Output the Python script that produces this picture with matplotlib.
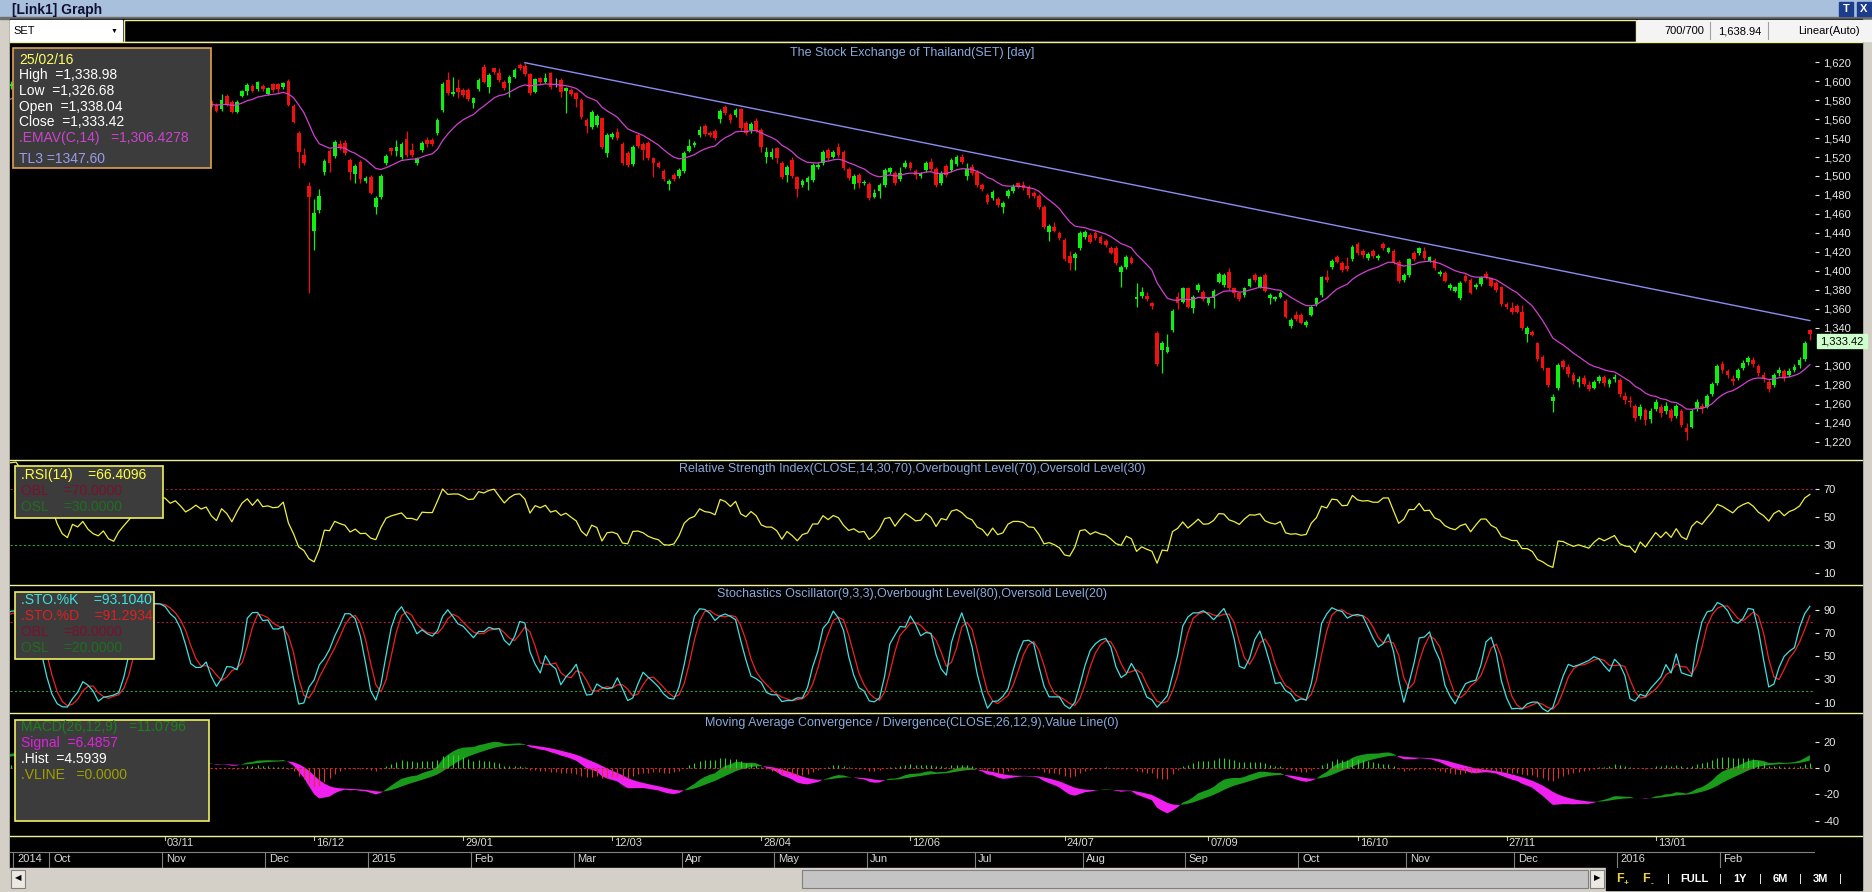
import numpy as np
import pandas as pd
import matplotlib
matplotlib.use("Agg")
import matplotlib.pyplot as plt
from matplotlib.patches import Rectangle

plt.rcParams['font.family'] = ['Liberation Sans', 'DejaVu Sans']

W, H = 1872, 892

# ---------------- SET daily candles ----------------
# 20 warm-up sessions (off screen, only feed the indicators),
# then 22/09/2014 .. 25/02/2016 (350 sessions)
N_WARM = 20

opens = [
    1545, 1549, 1553, 1557, 1562, 1559, 1564, 1568, 1566, 1571, 1575, 1573, 1578, 1582, 1580, 1585, 1589, 1587, 1591, 1595,
    1597, 1600, 1597, 1602, 1599, 1595, 1591,
    1585, 1579, 1567, 1556, 1553, 1562, 1561, 1564, 1555, 1549, 1546, 1550, 1539, 1537, 1545, 1551, 1557, 1564, 1568, 1573, 1579, 1583,
    1586, 1583, 1581, 1582, 1578, 1575, 1578, 1580, 1577,
    1579.0, 1574.5, 1571.0, 1584.3, 1578.3, 1567.8, 1584.3, 1589.6, 1594.8, 1592.0,
    1594.8, 1586.4, 1596.6, 1596.6, 1593.4, 1600.5, 1573.8, 1545.7, 1522.1, 1489.5,
    1442.4, 1464.2, 1504.2, 1526.4, 1521.1, 1533.7, 1534.4, 1516.9, 1502.1, 1514.4,
    1495.1, 1499.3, 1467.7, 1478.2, 1514.1, 1529.2, 1526.7, 1519.7, 1539.0, 1527.4,
    1514.1, 1527.4, 1537.9, 1537.9, 1545.7, 1569.5, 1601.2, 1586.4, 1592.4, 1590.6,
    1590.6, 1577.3, 1591.3, 1615.2, 1594.1, 1613.4, 1608.9, 1599.4, 1598.3, 1604.7,
    1617.0, 1615.9, 1607.1, 1588.9, 1602.9, 1599.4, 1608.2, 1596.2, 1601.2, 1589.9,
    1590.6, 1587.1, 1580.1, 1559.0, 1551.3, 1553.4, 1560.8, 1523.9, 1541.5, 1546.7,
    1533.7, 1524.6, 1512.7, 1543.2, 1533.7, 1535.1, 1518.6, 1513.4, 1505.6, 1491.6,
    1501.1, 1500.0, 1505.6, 1526.7, 1532.7, 1543.2, 1552.7, 1545.0, 1547.8, 1559.7,
    1572.4, 1564.3, 1564.3, 1570.3, 1555.5, 1548.5, 1558.3, 1548.5, 1520.4, 1519.7,
    1529.2, 1514.1, 1501.1, 1516.9, 1498.6, 1490.5, 1494.0, 1495.8, 1509.1, 1513.4,
    1527.4, 1520.4, 1530.9, 1525.7, 1507.4, 1491.6, 1501.1, 1492.3, 1491.6, 1478.2,
    1484.6, 1490.5, 1504.6, 1503.5, 1496.5, 1509.8, 1514.1, 1505.6, 1500.0, 1506.3,
    1515.1, 1507.0, 1492.3, 1510.5, 1506.3, 1512.7, 1520.4, 1500.0, 1509.8, 1504.6,
    1490.5, 1480.0, 1476.5, 1475.4, 1467.0, 1478.9, 1484.6, 1493.0, 1490.5, 1488.1,
    1482.5, 1479.0, 1467.0, 1441.4, 1446.6, 1440.3, 1432.6, 1415.7, 1413.3, 1423.8,
    1435.4, 1437.8, 1439.6, 1436.1, 1431.9, 1423.8, 1423.8, 1399.2, 1404.5, 1413.3,
    1370.1, 1373.6, 1373.6, 1365.8, 1334.9, 1316.7, 1314.9, 1337.7, 1372.9, 1367.6,
    1381.7, 1360.6, 1379.9, 1378.1, 1365.8, 1371.1, 1388.7, 1385.2, 1399.2, 1381.7,
    1376.4, 1374.6, 1384.1, 1395.7, 1383.4, 1395.7, 1371.1, 1370.1, 1372.9, 1368.7,
    1342.0, 1353.6, 1353.6, 1343.0, 1353.6, 1365.1, 1374.6, 1393.9, 1403.8, 1415.0,
    1408.0, 1405.2, 1412.2, 1428.4, 1421.3, 1413.3, 1421.3, 1413.3, 1428.4, 1420.3,
    1421.3, 1409.8, 1390.4, 1395.7, 1418.5, 1418.5, 1421.3, 1410.8, 1411.5, 1396.8,
    1397.5, 1381.7, 1379.2, 1371.1, 1394.6, 1390.4, 1382.7, 1386.2, 1396.8, 1392.2,
    1387.6, 1382.7, 1365.1, 1360.6, 1363.1, 1357.1, 1333.5, 1336.0, 1323.7, 1308.9,
    1297.3, 1263.3, 1276.3, 1305.4, 1299, 1290, 1283, 1287, 1280, 1277,
    1284, 1288, 1281, 1286, 1285, 1268, 1263, 1258, 1247, 1253,
    1244, 1254, 1257, 1252, 1253, 1247, 1252, 1234, 1236, 1255,
    1258, 1257, 1270, 1282, 1302, 1294, 1286, 1287, 1298, 1304,
    1306, 1300, 1290, 1283, 1280, 1292, 1294, 1290, 1296, 1301,
    1307, 1338.04,
]

highs = [
    1551, 1555, 1559, 1564, 1565, 1566, 1570, 1571, 1573, 1577, 1578, 1580, 1584, 1585, 1587, 1591, 1592, 1593, 1597, 1600,
    1602, 1602, 1604, 1604, 1601, 1597, 1593,
    1587, 1581, 1569, 1559, 1565, 1565, 1567, 1566, 1558, 1552, 1554, 1552, 1542, 1546, 1552, 1558, 1565, 1569, 1574, 1580, 1584, 1588,
    1589, 1585, 1585, 1584, 1580, 1579, 1583, 1582, 1582,
    1581.0, 1576.5, 1586.4, 1586.0, 1580.0, 1580.0, 1591.0, 1597.6, 1596.5, 1600.5,
    1596.5, 1594.0, 1598.5, 1598.3, 1599.0, 1602.2, 1575.5, 1547.5, 1529.2, 1493.3,
    1475.4, 1486.0, 1517.5, 1528.0, 1537.5, 1537.9, 1537.9, 1519.0, 1512.5, 1516.5,
    1500.0, 1501.5, 1479.0, 1502.0, 1523.0, 1530.9, 1537.9, 1535.5, 1547.8, 1535.1,
    1520.5, 1536.5, 1540.7, 1540.0, 1561.0, 1599.0, 1609.9, 1604.0, 1601.9, 1592.5,
    1592.5, 1583.5, 1603.0, 1618.0, 1608.2, 1615.2, 1613.4, 1601.0, 1606.0, 1613.5,
    1619.2, 1619.4, 1609.0, 1603.5, 1604.5, 1608.2, 1610.0, 1602.9, 1603.0, 1594.0,
    1592.5, 1589.0, 1582.0, 1561.0, 1570.0, 1565.3, 1562.5, 1545.0, 1546.0, 1550.2,
    1535.5, 1526.5, 1533.0, 1545.0, 1535.5, 1537.0, 1520.5, 1515.5, 1507.5, 1497.0,
    1503.0, 1508.5, 1526.0, 1538.7, 1537.0, 1552.7, 1554.8, 1547.0, 1549.5, 1571.0,
    1574.5, 1566.0, 1571.5, 1572.0, 1557.5, 1557.0, 1560.8, 1550.5, 1530.2, 1529.2,
    1531.0, 1516.0, 1512.0, 1519.7, 1500.5, 1497.0, 1499.5, 1513.5, 1513.5, 1527.5,
    1529.5, 1527.5, 1534.4, 1527.5, 1509.5, 1502.0, 1503.0, 1496.0, 1493.5, 1485.9,
    1492.5, 1508.5, 1509.8, 1505.5, 1509.8, 1516.9, 1516.0, 1507.5, 1504.0, 1515.5,
    1518.6, 1509.0, 1505.5, 1512.7, 1519.0, 1522.1, 1523.2, 1514.1, 1512.7, 1506.5,
    1492.5, 1482.0, 1485.5, 1477.5, 1474.0, 1486.5, 1491.6, 1494.0, 1495.1, 1490.0,
    1484.5, 1481.0, 1469.0, 1449.5, 1451.9, 1442.5, 1434.5, 1421.3, 1420.0, 1441.5,
    1443.0, 1440.0, 1441.5, 1438.0, 1434.0, 1426.0, 1426.0, 1406.0, 1416.5, 1415.5,
    1386.9, 1382.7, 1378.1, 1367.5, 1337.0, 1326.0, 1333.5, 1360.0, 1378.1, 1383.5,
    1383.5, 1375.0, 1387.0, 1380.0, 1373.0, 1381.0, 1398.5, 1397.5, 1402.7, 1383.5,
    1378.0, 1383.5, 1393.0, 1397.5, 1395.0, 1397.5, 1376.5, 1374.0, 1378.5, 1370.5,
    1350.0, 1358.1, 1355.5, 1348.5, 1364.5, 1373.0, 1395.0, 1401.0, 1413.0, 1417.0,
    1410.0, 1414.3, 1427.0, 1430.8, 1423.0, 1419.5, 1423.0, 1417.5, 1430.8, 1425.5,
    1423.0, 1411.5, 1397.5, 1414.0, 1420.5, 1425.6, 1425.6, 1416.0, 1413.5, 1401.0,
    1399.5, 1387.0, 1384.5, 1389.5, 1396.5, 1392.5, 1387.0, 1395.0, 1400.3, 1394.0,
    1389.5, 1384.5, 1367.0, 1367.6, 1365.0, 1364.1, 1341.5, 1338.0, 1325.5, 1311.0,
    1299.0, 1270.3, 1302.5, 1307.5, 1302, 1293, 1289, 1290, 1284, 1285,
    1290, 1290, 1287, 1291, 1287, 1272, 1268, 1260, 1260, 1255,
    1256, 1265, 1260, 1262, 1256, 1260, 1254, 1240, 1254, 1265,
    1261, 1270, 1283, 1302, 1305, 1297, 1290, 1298, 1306, 1310,
    1309, 1302, 1293, 1286, 1292, 1299, 1297, 1298, 1302, 1309,
    1326, 1338.98,
]

lows = [
    1542, 1546, 1550, 1554, 1555, 1556, 1561, 1562, 1563, 1568, 1569, 1570, 1575, 1576, 1577, 1582, 1583, 1584, 1588, 1592,
    1594, 1593, 1595, 1595, 1591, 1587, 1583,
    1578, 1566, 1554, 1548, 1551, 1557, 1559, 1554, 1547, 1544, 1544, 1537, 1532, 1535, 1543, 1549, 1555, 1562, 1566, 1571, 1577, 1581,
    1582, 1578, 1579, 1577, 1572, 1573, 1576, 1576, 1575,
    1571.0, 1567.0, 1569.0, 1574.0, 1566.0, 1566.0, 1583.0, 1585.4, 1588.0, 1590.0,
    1589.5, 1585.0, 1589.0, 1587.1, 1592.0, 1573.8, 1555.5, 1508.1, 1512.0, 1376.4,
    1422.0, 1461.4, 1501.1, 1504.6, 1519.0, 1527.5, 1522.5, 1495.8, 1493.0, 1493.0,
    1493.0, 1480.5, 1459.6, 1476.0, 1512.0, 1522.1, 1521.1, 1518.0, 1520.0, 1520.0,
    1512.0, 1525.5, 1530.2, 1531.5, 1543.2, 1567.5, 1585.5, 1584.5, 1581.8, 1583.5,
    1579.0, 1571.3, 1589.5, 1597.5, 1587.1, 1608.0, 1599.5, 1590.5, 1582.9, 1603.0,
    1611.5, 1605.0, 1585.0, 1587.0, 1597.0, 1597.6, 1591.5, 1594.1, 1583.6, 1566.0,
    1584.5, 1573.1, 1560.5, 1545.0, 1549.0, 1551.5, 1528.0, 1519.7, 1539.5, 1538.0,
    1512.0, 1509.5, 1510.5, 1529.5, 1516.9, 1516.5, 1499.3, 1508.0, 1494.5, 1485.3,
    1494.5, 1498.0, 1503.5, 1525.0, 1531.0, 1541.5, 1542.5, 1541.5, 1538.0, 1555.5,
    1564.0, 1555.5, 1562.5, 1548.5, 1543.2, 1545.7, 1546.0, 1525.7, 1513.4, 1518.0,
    1514.1, 1496.5, 1494.0, 1498.0, 1478.2, 1488.8, 1485.3, 1494.0, 1507.0, 1511.5,
    1516.5, 1518.5, 1520.0, 1506.0, 1495.5, 1486.0, 1487.0, 1490.5, 1474.5, 1476.5,
    1476.5, 1488.5, 1502.5, 1490.5, 1494.5, 1508.0, 1506.0, 1496.5, 1498.0, 1504.5,
    1505.0, 1488.1, 1490.5, 1499.0, 1504.5, 1511.0, 1513.0, 1495.8, 1501.5, 1488.5,
    1484.6, 1470.5, 1474.5, 1467.0, 1461.4, 1477.0, 1482.5, 1487.0, 1485.0, 1476.5,
    1477.0, 1465.0, 1444.0, 1431.9, 1440.5, 1432.5, 1410.0, 1401.0, 1401.0, 1422.0,
    1433.5, 1429.0, 1432.5, 1428.0, 1425.5, 1417.5, 1406.0, 1382.7, 1402.5, 1407.0,
    1362.3, 1371.5, 1368.0, 1359.5, 1300.0, 1292.8, 1313.0, 1336.0, 1359.5, 1366.0,
    1360.5, 1355.3, 1378.0, 1368.0, 1364.0, 1360.6, 1387.0, 1383.5, 1380.0, 1372.9,
    1368.0, 1373.0, 1382.5, 1388.7, 1381.5, 1377.5, 1365.1, 1368.5, 1371.0, 1350.0,
    1340.0, 1347.0, 1343.5, 1341.0, 1352.0, 1363.0, 1372.5, 1388.5, 1402.0, 1408.0,
    1399.0, 1400.0, 1410.5, 1416.5, 1413.3, 1411.5, 1414.0, 1411.5, 1422.0, 1418.5,
    1407.0, 1387.6, 1388.7, 1394.0, 1410.5, 1417.0, 1411.5, 1409.0, 1401.0, 1395.0,
    1388.0, 1380.0, 1377.5, 1369.5, 1388.0, 1375.5, 1381.0, 1384.5, 1391.5, 1382.5,
    1378.0, 1363.5, 1360.0, 1354.6, 1355.5, 1338.0, 1325.5, 1331.0, 1305.0, 1295.5,
    1278.0, 1251.7, 1274.5, 1297.0, 1288, 1281, 1278, 1279, 1273, 1275,
    1282, 1279, 1278, 1283, 1267, 1260, 1257, 1242, 1244, 1238,
    1240, 1252, 1246, 1249, 1242, 1245, 1235, 1222, 1234, 1252,
    1250, 1255, 1268, 1280, 1292, 1287, 1280, 1285, 1296, 1301,
    1299, 1289, 1283, 1272, 1278, 1289, 1284, 1288, 1293, 1298,
    1305, 1326.68,
]

closes = [
    1548, 1552, 1556, 1561, 1558, 1563, 1567, 1565, 1570, 1574, 1572, 1577, 1581, 1579, 1584, 1588, 1586, 1590, 1594, 1597,
    1599, 1596, 1601, 1598, 1594, 1590, 1586,
    1580, 1568, 1557, 1552, 1563, 1560, 1565, 1556, 1550, 1547, 1551, 1540, 1536, 1544, 1550, 1556, 1563, 1567, 1572, 1578, 1582, 1585,
    1584, 1580, 1583, 1579, 1574, 1577, 1581, 1578, 1580,
    1573.1, 1568.8, 1580.1, 1575.9, 1567.8, 1578.3, 1589.6, 1595.9, 1589.6, 1598.7,
    1591.3, 1592.4, 1590.6, 1591.3, 1597.6, 1574.8, 1557.3, 1525.7, 1514.1, 1478.2,
    1460.7, 1478.9, 1515.8, 1514.1, 1535.5, 1529.2, 1524.6, 1504.6, 1510.5, 1496.9,
    1497.6, 1482.5, 1477.2, 1500.0, 1521.1, 1526.7, 1530.2, 1533.7, 1522.1, 1522.1,
    1518.6, 1534.4, 1533.7, 1533.7, 1559.0, 1596.9, 1587.8, 1588.9, 1588.9, 1585.4,
    1580.8, 1581.8, 1601.2, 1599.4, 1606.4, 1609.9, 1601.2, 1592.4, 1604.0, 1611.7,
    1613.4, 1607.1, 1587.1, 1601.9, 1598.7, 1603.6, 1593.4, 1596.2, 1588.9, 1592.4,
    1586.4, 1580.8, 1562.5, 1552.7, 1567.8, 1563.2, 1530.2, 1543.2, 1544.3, 1539.7,
    1514.1, 1511.6, 1530.9, 1531.6, 1527.4, 1518.6, 1513.4, 1509.8, 1496.5, 1495.1,
    1496.5, 1506.3, 1523.9, 1531.6, 1535.1, 1548.5, 1544.3, 1543.2, 1539.7, 1568.8,
    1566.0, 1559.0, 1569.5, 1550.2, 1545.0, 1554.8, 1547.8, 1530.2, 1525.7, 1525.7,
    1518.6, 1498.6, 1509.8, 1500.0, 1486.0, 1495.1, 1497.6, 1511.6, 1511.6, 1525.7,
    1518.6, 1525.7, 1522.1, 1508.1, 1497.6, 1500.0, 1493.0, 1494.0, 1476.5, 1481.7,
    1490.5, 1506.3, 1508.1, 1492.3, 1503.5, 1514.1, 1508.1, 1501.1, 1502.1, 1513.4,
    1507.0, 1490.5, 1503.5, 1501.1, 1516.9, 1519.7, 1515.1, 1507.0, 1503.5, 1490.5,
    1486.0, 1473.0, 1483.5, 1469.5, 1471.9, 1484.6, 1488.8, 1488.8, 1487.0, 1480.0,
    1479.0, 1467.0, 1445.9, 1447.3, 1442.4, 1434.3, 1412.2, 1408.0, 1417.8, 1439.6,
    1441.0, 1430.8, 1434.3, 1429.8, 1427.3, 1419.2, 1408.0, 1403.8, 1414.3, 1408.7,
    1372.2, 1378.1, 1370.1, 1363.1, 1301.9, 1323.7, 1319.5, 1358.1, 1365.8, 1381.7,
    1362.3, 1372.9, 1385.2, 1370.1, 1371.1, 1379.2, 1396.8, 1395.7, 1381.7, 1377.1,
    1370.1, 1381.7, 1391.1, 1390.4, 1393.2, 1379.2, 1374.6, 1372.2, 1376.4, 1351.8,
    1348.3, 1349.0, 1345.5, 1346.5, 1362.3, 1371.1, 1393.2, 1390.4, 1410.8, 1409.8,
    1401.0, 1401.7, 1424.9, 1418.5, 1416.8, 1417.8, 1415.7, 1415.7, 1423.8, 1423.8,
    1408.7, 1389.7, 1395.7, 1412.2, 1412.2, 1423.8, 1413.3, 1414.3, 1402.7, 1399.2,
    1389.7, 1385.2, 1382.7, 1387.6, 1389.7, 1377.1, 1385.2, 1393.2, 1393.2, 1384.1,
    1379.9, 1365.1, 1361.6, 1357.1, 1357.1, 1339.5, 1339.5, 1332.5, 1306.8, 1297.3,
    1279.8, 1267.5, 1300.8, 1299.1, 1291, 1284, 1286, 1281, 1276, 1283,
    1288, 1282, 1285, 1288, 1270, 1264, 1262, 1245, 1257, 1243,
    1252, 1262, 1250, 1258, 1245, 1258, 1238, 1230, 1252, 1262,
    1255, 1268, 1281, 1300, 1296, 1290, 1284, 1296, 1303, 1308,
    1302, 1292, 1286, 1276, 1290, 1296, 1287, 1295, 1299, 1306,
    1324, 1333.42,
]

# SET holidays inside the window (trading calendar)
holidays = ['2014-10-23', '2014-12-05', '2014-12-10', '2014-12-31', '2015-01-01', '2015-01-02',
            '2015-03-04', '2015-04-06', '2015-04-13', '2015-04-14', '2015-04-15', '2015-05-01',
            '2015-05-04', '2015-05-05', '2015-06-01', '2015-07-30', '2015-07-31', '2015-08-12',
            '2015-10-23', '2015-12-07', '2015-12-10', '2015-12-31', '2016-01-01', '2016-02-22']

top_dates = ['2014-11-03', '2014-12-16', '2015-01-29', '2015-03-12', '2015-04-28', '2015-06-12',
             '2015-07-24', '2015-09-07', '2015-10-16', '2015-11-27', '2016-01-13']
top_labels = ['03/11', '16/12', '29/01', '12/03', '28/04', '12/06', '24/07', '07/09', '16/10', '27/11', '13/01']

# trend line TL3 (bar index, price)
tl_points = [(99, 1619.4), (349, 1347.6)]

# 1,320 sits under the last-price tag, so it is not printed
price_ticks = [v for v in range(1220, 1621, 20) if v != 1320]
rsi_ticks = [10, 30, 50, 70]
sto_ticks = [10, 30, 50, 70, 90]
macd_ticks = [-40, -20, 0, 20]
last_close = 1333.42

# ---------------- indicators ----------------
o = np.array(opens, float)
h = np.array(highs, float)
l = np.array(lows, float)
c = np.array(closes, float)
pos = np.arange(len(c)) - N_WARM
cs = pd.Series(c)

ema14 = cs.ewm(span=14, adjust=False).mean()

d = cs.diff()
ag = d.clip(lower=0).ewm(alpha=1 / 14, adjust=False).mean()
al = (-d.clip(upper=0)).ewm(alpha=1 / 14, adjust=False).mean()
rsi = 100 - 100 / (1 + ag / al)

hh = pd.Series(h).rolling(9).max()
ll = pd.Series(l).rolling(9).min()
fastk = 100 * (cs - ll) / (hh - ll)
stok = fastk.rolling(3).mean()
stod = stok.rolling(3).mean()

macd = cs.ewm(span=12, adjust=False).mean() - cs.ewm(span=26, adjust=False).mean()
signal = macd.ewm(span=9, adjust=False).mean()
hist = macd - signal

days = pd.bdate_range('2014-09-22', '2016-02-25')
days = days[~days.isin(pd.to_datetime(holidays))]

# ---------------- figure ----------------
fig = plt.figure(figsize=(W / 100, H / 100), dpi=100)
fig.patch.set_facecolor('#d4d0c8')


def box(x0, y0, x1, y1, z=1):
    return fig.add_axes([x0 / W, 1 - y1 / H, (x1 - x0) / W, (y1 - y0) / H], zorder=z)


def pix_layer(z):
    a = box(0, 0, W, H, z)
    a.set_xlim(0, W)
    a.set_ylim(H, 0)
    a.axis('off')
    return a


bg = pix_layer(0)
fg = pix_layer(5)

# window chrome
bg.add_patch(Rectangle((0, 0), W, 18, color='#a9c0dc'))
bg.add_patch(Rectangle((0, 17), W, 2, color='#6e6e6e'))
bg.text(12, 10, '[Link1] Graph', fontsize=10, fontweight='bold', color='#101030', va='center')
bg.add_patch(Rectangle((10, 19), 1852, 849, color='black'))
bg.add_patch(Rectangle((10, 20), 112, 21, color='white'))
bg.text(13, 31, 'SET', fontsize=8, color='black', va='center')
bg.text(114, 31, '\u25bc', fontsize=5, color='black', va='center', ha='center')
bg.add_patch(Rectangle((124, 20), 1512, 22, fill=False, edgecolor='#f0f0a0', lw=1))
bg.add_patch(Rectangle((1637, 20), 235, 21, color='#f4f4f4'))
bg.text(1704, 31, '700/700', fontsize=8, color='black', va='center', ha='right')
bg.text(1761, 31, '1,638.94', fontsize=8, color='black', va='center', ha='right')
bg.text(1798, 31, 'Linear(Auto)', fontsize=8, color='black', va='center', ha='left')
for sx in (1710, 1768):
    bg.plot([sx, sx], [22, 39], color='#a0a0a0', lw=0.8)
for bx, t in ((1839, 'T'), (1857, 'X')):
    bg.add_patch(Rectangle((bx, 2), 14, 14, color='#1c3c8c'))
    bg.text(bx + 7, 9, t, fontsize=8, fontweight='bold', color='white', ha='center', va='center')

# bottom scroll bar and zoom buttons
bg.add_patch(Rectangle((10, 868), 1596, 22, color='#d4d0c8'))
bg.add_patch(Rectangle((11, 870), 14, 18, facecolor='#ece9e2', edgecolor='#808080', lw=0.8))
bg.text(18, 879, '\u25c0', fontsize=6, color='black', ha='center', va='center')
bg.add_patch(Rectangle((802, 870), 786, 18, facecolor='#c4c4c4', edgecolor='#808080', lw=0.8))
bg.add_patch(Rectangle((1590, 870), 14, 18, facecolor='#ece9e2', edgecolor='#808080', lw=0.8))
bg.text(1597, 879, '\u25b6', fontsize=6, color='black', ha='center', va='center')
bg.add_patch(Rectangle((1606, 868), 256, 22, color='black'))
for fx, sign in ((1620, '+'), (1646, '-')):
    bg.text(fx, 879, 'F', fontsize=9, fontweight='bold', color='#f0d040', ha='center', va='center')
    bg.text(fx + 6, 884, sign, fontsize=6, fontweight='bold', color='#f0d040', ha='center', va='center')
for bx, t in ((1694, 'FULL'), (1740, '1Y'), (1780, '6M'), (1820, '3M')):
    bg.text(bx, 879, t, fontsize=8, fontweight='bold', color='white', ha='center', va='center')
for sx in (1668, 1720, 1760, 1800, 1840):
    bg.text(sx, 879, '|', fontsize=8, color='white', ha='center', va='center')

XLO, XHI = (10 - 16) / 5.14, (1815 - 16) / 5.14
GREEN, RED, GRAY = '#10f010', '#f01010', '#a0a0a0'
PLO, PHI = 1200.7, 1641.2


def panel(y0, y1, ylo, yhi, ticks, labels):
    ax = box(10, y0, 1815, y1, 1)
    ax.set_facecolor('black')
    ax.set_xlim(XLO, XHI)
    ax.set_ylim(ylo, yhi)
    for s in ax.spines.values():
        s.set_visible(False)
    ax.set_xticks([])
    ax.yaxis.tick_right()
    ax.set_yticks(ticks)
    ax.set_yticklabels(labels)
    ax.tick_params(axis='y', colors='#e8e8e8', labelsize=8, length=3, width=0.8, pad=3)
    return ax


# main price panel
main = panel(42, 460, PLO, PHI, price_ticks, [f'{v:,}' for v in price_ticks])
col = np.where(c > o, GREEN, np.where(c < o, RED, GRAY))
main.vlines(pos, l, h, colors=col, lw=0.9)
main.bar(pos, np.maximum(np.abs(c - o), 0.9), bottom=np.minimum(o, c), width=0.72, color=col, linewidth=0)
main.plot(pos, ema14, color='#d040d0', lw=0.9)
main.plot([p for p, _ in tl_points], [v for _, v in tl_points], color='#8c8cf0', lw=1.0)

# RSI
rsi_ax = panel(460, 585, 1.3, 91, rsi_ticks, [str(v) for v in rsi_ticks])
rsi_ax.axhline(70, color='#a02040', lw=0.8, dashes=(2, 2))
rsi_ax.axhline(30, color='#30a030', lw=0.8, dashes=(2, 2))
rsi_ax.plot(pos, rsi, color='#f0f040', lw=0.9)

# Stochastics
sto_ax = panel(585, 713, 0.95, 111.8, sto_ticks, [str(v) for v in sto_ticks])
sto_ax.axhline(80, color='#a02040', lw=0.8, dashes=(2, 2))
sto_ax.axhline(20, color='#30a030', lw=0.8, dashes=(2, 2))
sto_ax.plot(pos, stod, color='#f02020', lw=0.9)
sto_ax.plot(pos, stok, color='#40e0e0', lw=0.9)

# MACD
macd_ax = panel(713, 836, -51.7, 41.8, macd_ticks, [str(v) for v in macd_ticks])
macd_ax.axhline(0, color='#c03030', lw=0.8, dashes=(2, 2))
macd_ax.fill_between(pos, macd, signal, where=(macd >= signal), color='#1a9a1a', lw=0, interpolate=True)
macd_ax.fill_between(pos, macd, signal, where=(macd < signal), color='#f020f0', lw=0, interpolate=True)
macd_ax.vlines(pos, 0, hist, colors=np.where(hist >= 0, '#30d030', '#e03030'), lw=0.8)

# date axis
dax = box(10, 836, 1815, 868, 1)
dax.set_facecolor('black')
dax.set_xlim(XLO, XHI)
dax.set_ylim(0, 32)
dax.invert_yaxis()
dax.axis('off')
idx_of = {dt: i for i, dt in enumerate(days)}
for ds, lab in zip(top_dates, top_labels):
    p = idx_of[pd.Timestamp(ds)]
    dax.plot([p, p], [0, 4], color='#c0c0c0', lw=0.8)
    dax.text(p + 0.4, 7.5, lab, fontsize=8, color='#d8d8d8', ha='left', va='center')
prev = None
for i, dt in enumerate(days):
    if prev is None or dt.month != prev.month:
        lab = str(dt.year) if (prev is None or dt.month == 1) else dt.strftime('%b')
        dax.plot([i - 0.5, i - 0.5], [16, 32], color='#808080', lw=0.8)
        dax.text(i + 0.2, 23.5, lab, fontsize=8, color='#d8d8d8', ha='left', va='center')
    prev = dt
dax.plot([XLO, XHI], [16, 16], color='#808080', lw=0.8)

# panel separators
for yy in (42, 460, 585, 713, 836):
    fg.plot([10, 1862], [yy, yy], color='#f0f0a0', lw=1.0)

# panel titles
title_kw = dict(fontsize=9, color='#88aadd', ha='center', va='center')
fg.text(912, 53, 'The Stock Exchange of Thailand(SET) [day]', **title_kw)
fg.text(912, 469, 'Relative Strength Index(CLOSE,14,30,70),Overbought Level(70),Oversold Level(30)', **title_kw)
fg.text(912, 594, 'Stochastics Oscillator(9,3,3),Overbought Level(80),Oversold Level(20)', **title_kw)
fg.text(912, 723, 'Moving Average Convergence / Divergence(CLOSE,26,12,9),Value Line(0)', **title_kw)

# last price tag (sits just under the 1,340 label)
tag_y = 42 + (PHI - last_close) / (PHI - PLO) * 418 + 7
fg.add_patch(Rectangle((1817, tag_y - 7), 50, 14, color='#ccffcc'))
fg.text(1842, tag_y, f'{last_close:,.2f}', fontsize=8, color='black', ha='center', va='center')


def legend_box(x0, y0, x1, y1, edge, rows):
    fg.add_patch(Rectangle((x0, y0), x1 - x0, y1 - y0, facecolor='#3c3c3c', edgecolor=edge, lw=1.2))
    for ty, txt, colr in rows:
        fg.text(x0 + 6, ty, txt, fontsize=10, color=colr, ha='left', va='center')


legend_box(13, 48, 211, 168, '#e0a050', [
    (60, '25/02/16', '#ffff66'),
    (75, 'High  =1,338.98', 'white'),
    (91, 'Low  =1,326.68', 'white'),
    (107, 'Open  =1,338.04', 'white'),
    (122, 'Close  =1,333.42', 'white'),
    (138, '.EMAV(C,14)   =1,306.4278', '#cc44cc'),
    (159, 'TL3 =1347.60', '#9a9af0'),
])
legend_box(15, 466, 163, 518, '#f0f060', [
    (475, '.RSI(14)    =66.4096', '#ffff44'),
    (491, 'OBL    =70.0000', '#7a1030'),
    (507, 'OSL    =30.0000', '#1f6f1f'),
])
legend_box(15, 592, 154, 659, '#f0f060', [
    (600, '.STO.%K    =93.1040', '#40e0e0'),
    (616, '.STO.%D    =91.2934', '#e02020'),
    (632, 'OBL    =80.0000', '#7a1030'),
    (648, 'OSL    =20.0000', '#1f6f1f'),
])
legend_box(15, 720, 209, 821, '#f0f060', [
    (727, 'MACD(26,12,9)   =11.0796', '#1f7f1f'),
    (743, 'Signal  =6.4857', '#e020e0'),
    (759, '.Hist  =4.5939', 'white'),
    (775, '.VLINE   =0.0000', '#a0a000'),
])

fig.savefig('out.png', dpi=100, facecolor=fig.get_facecolor())
